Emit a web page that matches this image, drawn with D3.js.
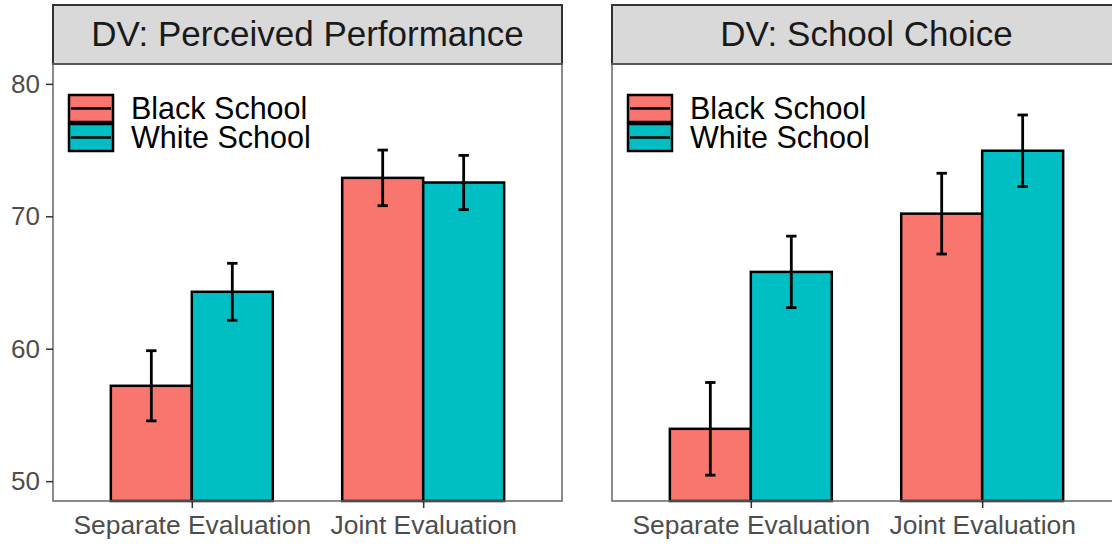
<!DOCTYPE html>
<html>
<head>
<meta charset="utf-8">
<script src="https://cdn.jsdelivr.net/npm/d3@7/dist/d3.min.js"></script>
<style>
  body { margin: 0; background: #fff; }
  text { font-family: "Liberation Sans", Arial, sans-serif; }
</style>
</head>
<body>
<svg id="chart" width="1112" height="545"></svg>
<script>
// facets, categories, groups
var facets = ["DV: Perceived Performance", "DV: School Choice"];
var conditions = ["Separate Evaluation", "Joint Evaluation"];
var schools = ["Black School", "White School"];
var yTicks = [50, 60, 70, 80];

// means and standard errors, one value per condition
var perfBlack = [57.2, 72.9];
var perfWhite = [64.3, 72.55];
var perfBlackSE = [2.65, 2.1];
var perfWhiteSE = [2.15, 2.05];
var choiceBlack = [53.95, 70.2];
var choiceWhite = [65.8, 74.95];
var choiceBlackSE = [3.5, 3.05];
var choiceWhiteSE = [2.7, 2.7];

var colors = ["#F8766D", "#00BFC4"];

// build rows from the arrays
var series = [
  [perfBlack, perfWhite, perfBlackSE, perfWhiteSE],
  [choiceBlack, choiceWhite, choiceBlackSE, choiceWhiteSE]
];
var panels = facets.map(function(f, fi) {
  var s = series[fi], rows = [];
  conditions.forEach(function(c, ci) {
    rows.push({cond: c, school: schools[0], mean: s[0][ci], se: s[2][ci]});
    rows.push({cond: c, school: schools[1], mean: s[1][ci], se: s[3][ci]});
  });
  return {title: f, rows: rows};
});

var svg = d3.select("#chart");
svg.append("rect").attr("width", 1112).attr("height", 545).attr("fill", "#fff");

var panelW = 509,
  panelLefts = [53, 612],
  stripTop = 5, stripBottom = 64,
  panelTop = 64, panelBottom = 501;

var y = d3.scaleLinear()
  .domain([48.5, 81.5])
  .range([panelBottom, panelTop]);

var color = d3.scaleOrdinal().domain(schools).range(colors);

panels.forEach(function(p, pi) {
  var x0 = panelLefts[pi];
  var g = svg.append("g");

  var x = d3.scalePoint()
    .domain(conditions)
    .range([x0, x0 + panelW])
    .padding(0.6);
  var step = x.step();

  var dodge = d3.scaleBand()
    .domain(schools)
    .range([-0.35 * step, 0.35 * step]);

  // strip
  g.append("rect")
    .attr("x", x0).attr("y", stripTop)
    .attr("width", panelW).attr("height", stripBottom - stripTop)
    .attr("fill", "#d9d9d9")
    .attr("stroke", "#333").attr("stroke-width", 2);
  g.append("text")
    .attr("x", x0 + panelW / 2).attr("y", 46)
    .attr("text-anchor", "middle")
    .attr("font-size", 35)
    .attr("fill", "#1a1a1a")
    .text(p.title);

  // bars
  g.selectAll(".bar")
    .data(p.rows)
    .enter().append("rect")
    .attr("class", "bar")
    .attr("x", function(d) { return x(d.cond) + dodge(d.school); })
    .attr("y", function(d) { return y(d.mean); })
    .attr("width", dodge.bandwidth())
    .attr("height", function(d) { return y.range()[0] - y(d.mean); })
    .attr("fill", function(d) { return color(d.school); })
    .attr("stroke", "#000").attr("stroke-width", 2.5);

  // error bars
  var capW = 5.2;
  var eb = g.selectAll(".err")
    .data(p.rows)
    .enter().append("g")
    .attr("class", "err")
    .attr("stroke", "#000").attr("stroke-width", 2.8)
    .attr("transform", function(d) {
      return "translate(" + (x(d.cond) + dodge(d.school) + dodge.bandwidth() / 2) + ",0)";
    });
  eb.append("line")
    .attr("y1", function(d) { return y(d.mean - d.se); })
    .attr("y2", function(d) { return y(d.mean + d.se); });
  eb.append("line")
    .attr("x1", -capW).attr("x2", capW)
    .attr("y1", function(d) { return y(d.mean + d.se); })
    .attr("y2", function(d) { return y(d.mean + d.se); });
  eb.append("line")
    .attr("x1", -capW).attr("x2", capW)
    .attr("y1", function(d) { return y(d.mean - d.se); })
    .attr("y2", function(d) { return y(d.mean - d.se); });

  // legend inside the panel
  var leg = g.append("g")
    .attr("transform", "translate(" + (x0 + 16) + ",95)");
  var item = leg.selectAll(".key")
    .data(schools)
    .enter().append("g")
    .attr("class", "key")
    .attr("transform", function(d, i) { return "translate(0," + (i * 29) + ")"; });
  item.append("rect")
    .attr("width", 44).attr("height", 27)
    .attr("fill", function(d) { return color(d); })
    .attr("stroke", "#000").attr("stroke-width", 2.5);
  item.append("line")
    .attr("x1", 2).attr("x2", 42)
    .attr("y1", 13.5).attr("y2", 13.5)
    .attr("stroke", "#000").attr("stroke-width", 2.5);
  item.append("text")
    .attr("x", 62).attr("y", 24)
    .attr("font-size", 30.5)
    .attr("fill", "#000")
    .text(function(d) { return d; });

  // panel border
  g.append("rect")
    .attr("x", x0).attr("y", panelTop)
    .attr("width", panelW).attr("height", panelBottom - panelTop)
    .attr("fill", "none")
    .attr("stroke", "#666").attr("stroke-width", 1.5);

  // x axis
  var xAxis = g.append("g")
    .attr("transform", "translate(0," + panelBottom + ")")
    .call(d3.axisBottom(x).tickSize(7).tickPadding(7));
  xAxis.select(".domain").remove();
  xAxis.selectAll("line").attr("stroke", "#333").attr("stroke-width", 1.5);
  xAxis.selectAll("text")
    .attr("font-size", 26.4)
    .attr("fill", "#4d4d4d")
    .attr("font-family", "Liberation Sans, Arial, sans-serif");

  // y axis on the first panel only
  if (pi === 0) {
    var yAxis = g.append("g")
      .attr("transform", "translate(" + x0 + ",0)")
      .call(d3.axisLeft(y).tickValues(yTicks).tickSize(7).tickPadding(6));
    yAxis.select(".domain").remove();
    yAxis.selectAll("line").attr("stroke", "#333").attr("stroke-width", 1.5);
    yAxis.selectAll("text")
      .attr("font-size", 26)
      .attr("fill", "#4d4d4d")
      .attr("font-family", "Liberation Sans, Arial, sans-serif");
  }
});
</script>
</body>
</html>
